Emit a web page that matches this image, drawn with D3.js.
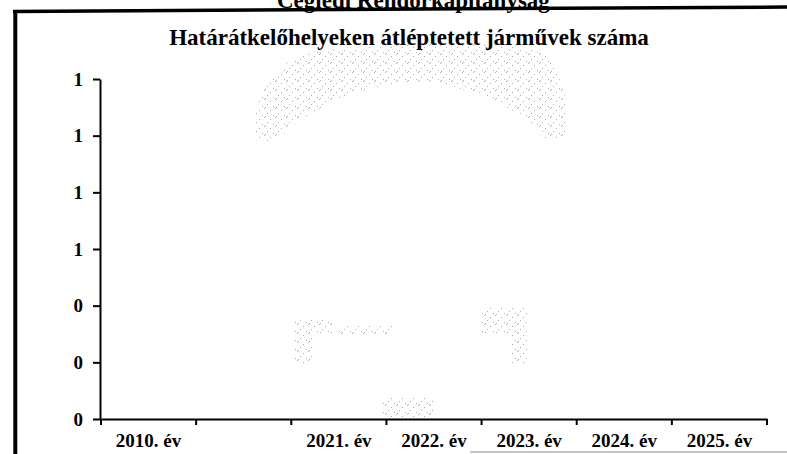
<!DOCTYPE html>
<html lang="hu">
<head>
<meta charset="utf-8">
<script src="https://cdn.jsdelivr.net/npm/d3@7/dist/d3.min.js"></script>
<style>
  html, body { margin: 0; padding: 0; background: #fff; }
  svg { display: block; }
  text { font-family: "Liberation Serif", "Times New Roman", serif; font-weight: bold; fill: #000; }
</style>
</head>
<body>
<svg id="chart" width="787" height="454"></svg>
<script>
// Chart content
const headerText = "Ceglédi Rendőrkapitányság";
const titleText = "Határátkelőhelyeken átléptetett járművek száma";
const categories = ["2010. év", "", "2021. év", "2022. év", "2023. év", "2024. év", "2025. év"];
const values = [0, 0, 0, 0, 0, 0, 0];
const yTickValues = [0, 0.2, 0.4, 0.6, 0.8, 1.0, 1.2];

const svg = d3.select("#chart");
const W = 787, H = 454;
const plot = { left: 101, right: 767, top: 79, bottom: 419 };

svg.append("rect").attr("width", W).attr("height", H).attr("fill", "#fff");

// Faint stippled crest in the background
const defs = svg.append("defs");
const pat = defs.append("pattern")
  .attr("id", "stipple").attr("patternUnits", "userSpaceOnUse")
  .attr("width", 11).attr("height", 9);
[[0, 0], [6, 2], [3, 5], [9, 7], [1, 8]].forEach(([px, py]) => {
  pat.append("rect").attr("x", px).attr("y", py).attr("width", 1).attr("height", 1).attr("fill", "#9a9a9a");
});
const crest = svg.append("g").attr("opacity", 0.8);
const crestShapes = [
  "M257,142 C250,110 262,76 298,56 C360,42 480,40 540,50 C560,70 572,100 565,138 L545,140 C525,112 485,92 432,82 C380,80 318,98 276,142 Z",
  "M295,318 L332,318 L332,333 L313,333 L313,364 L295,364 Z",
  "M338,326 L392,326 L392,334 L338,334 Z",
  "M480,308 L528,308 L528,364 L510,364 L510,333 L480,333 Z",
  "M383,398 L433,398 L433,417 L383,417 Z"
];
crest.selectAll("path").data(crestShapes).join("path")
  .attr("d", d => d).attr("fill", "url(#stipple)");

// Page frame: heavy left and top rules, faint bottom rule
svg.append("line").attr("x1", 13).attr("y1", 11.5).attr("x2", W).attr("y2", 7)
  .attr("stroke", "#000").attr("stroke-width", 3.5);
svg.append("line").attr("x1", 15.3).attr("y1", 10).attr("x2", 15.3).attr("y2", H)
  .attr("stroke", "#000").attr("stroke-width", 4);
svg.append("line").attr("x1", 470).attr("y1", 452).attr("x2", W).attr("y2", 452)
  .attr("stroke", "#8c8c8c").attr("stroke-width", 1);

// Header (cut by the top rule) and chart title
svg.append("text").attr("x", 277).attr("y", 7.5)
  .style("font-size", "23px").text(headerText);
svg.append("text").attr("x", 409).attr("y", 45).attr("text-anchor", "middle")
  .style("font-size", "23px").text(titleText);

// Scales
const x = d3.scaleBand().domain(d3.range(categories.length))
  .range([plot.left, plot.right]).paddingInner(0.4).paddingOuter(0.2);
const xEdges = d3.scaleBand().domain(d3.range(categories.length))
  .range([plot.left, plot.right]).padding(0);
const y = d3.scaleLinear().domain([0, 1.2]).range([plot.bottom, plot.top]);

// Bars
svg.append("g").selectAll("rect").data(values).join("rect")
  .attr("x", (d, i) => x(i)).attr("width", x.bandwidth())
  .attr("y", d => y(d)).attr("height", d => y(0) - y(d))
  .attr("fill", "#333399");

// Y axis
const yAxis = svg.append("g").attr("transform", `translate(${plot.left - 1},0)`)
  .call(d3.axisLeft(y).tickValues(yTickValues).tickFormat(d3.format(".0f"))
    .tickSize(7).tickSizeOuter(0).tickPadding(10));
yAxis.selectAll("path, line").attr("stroke", "#000").attr("stroke-width", 2);
yAxis.selectAll("text").style("font-size", "19px").attr("fill", "#000");

// X axis with labels centred in each category and ticks on the boundaries
const xAxis = svg.append("g").attr("transform", `translate(0,${plot.bottom})`)
  .call(d3.axisBottom(xEdges).tickFormat(i => categories[i])
    .tickSize(0).tickSizeOuter(0).tickPadding(15));
xAxis.select("path").attr("stroke", "#000").attr("stroke-width", 2);
xAxis.selectAll("text").style("font-size", "19px").attr("fill", "#000");

const edges = categories.map((c, i) => xEdges(i)).concat([xEdges(categories.length - 1) + xEdges.bandwidth()]);
svg.append("g").selectAll("line").data(edges).join("line")
  .attr("x1", d => d).attr("x2", d => d)
  .attr("y1", plot.bottom).attr("y2", plot.bottom + 6)
  .attr("stroke", "#000").attr("stroke-width", 2);
</script>
</body>
</html>
